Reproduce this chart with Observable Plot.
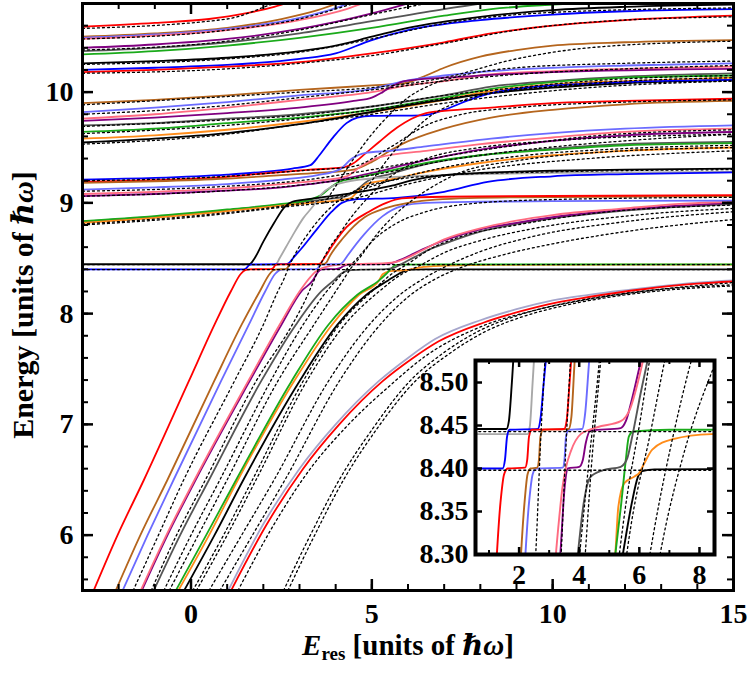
<!DOCTYPE html>
<html><head><meta charset="utf-8">
<script src="https://cdn.jsdelivr.net/npm/d3@7"></script>
<script src="https://cdn.jsdelivr.net/npm/@observablehq/plot@0.6"></script>
<style>
body{margin:0;background:#fff;}
#wrap{position:relative;width:747px;height:673px;overflow:hidden;font-family:'Liberation Serif','DejaVu Serif',serif;font-weight:bold;color:#000;}
#wrap svg text{font-family:'Liberation Serif','DejaVu Serif',serif !important;font-weight:bold !important;}
#main{position:absolute;left:0;top:0;}
#inset{position:absolute;left:400px;top:345px;}
.ylab{position:absolute;left:22px;top:305px;transform:translate(-50%,-50%) rotate(-90deg);white-space:nowrap;font-size:30px;}
.xlab{position:absolute;left:408px;top:646px;transform:translate(-50%,-50%);white-space:nowrap;font-size:29px;}
.xlab sub{font-size:19px;vertical-align:-5px;}
</style></head>
<body>
<div id="wrap">
  <div id="main"></div>
  <div id="inset"></div>
  <div class="ylab">Energy [units of <i>ℏω</i>]</div>
  <div class="xlab"><i>E</i><sub>res</sub> [units of <i>ℏω</i>]</div>
</div>
<script>
// ---------- tick values ----------
const xMajor = [0, 5, 10, 15];
const xMinor = [-3,-2,-1,0,1,2,3,4,5,6,7,8,9,10,11,12,13,14,15];
const yMajor = [6, 7, 8, 9, 10];
const yMinor = [5.6,5.8,6,6.2,6.4,6.6,6.8,7,7.2,7.4,7.6,7.8,8,8.2,8.4,8.6,8.8,9,9.2,9.4,9.6,9.8,10,10.2,10.4,10.6,10.8];
const insXMajor = [2, 4, 6, 8];
const insXMinor = [1, 3, 5, 7];
const insYMajor = [8.30, 8.35, 8.40, 8.45, 8.50];

// ---------- colored curves (E_res, Energy) ----------
const low_red = [[-2.69,5.5],[-2.03,6.0],[-1.3,6.5],[-0.06,7.39],[0.65,7.9],[1.1,8.2],[1.38,8.36],[1.5,8.393],[1.62,8.40],[2.2,8.401],[2.27,8.41],[2.33,8.437],[2.42,8.445],[3.5,8.446],[3.58,8.455],[3.68,8.5],[3.9,8.61],[4.3,8.78],[4.92,8.92],[5.4,9.0],[5.83,9.04],[7,9.055],[10,9.062],[15,9.07]];
const top_black = [[-3,8.446],[1.58,8.446],[1.66,8.455],[1.76,8.5],[2.0,8.65],[2.3,8.82],[2.58,8.96],[2.8,9.01],[3.3,9.035],[4.5,9.09],[5.5,9.15],[6.2,9.21],[7,9.25],[8,9.27],[10,9.29],[12,9.3],[15,9.31]];
const lgray_low = [[-3,8.44],[2.28,8.44],[2.36,8.45],[2.45,8.5],[2.8,8.7],[3.1,8.86],[3.4,8.98],[3.61,9.08],[3.9,9.15],[4.3,9.19],[5,9.22],[6,9.24],[8,9.26],[10,9.27],[15,9.28]];
const blue_low = [[-3,8.40],[1.45,8.40],[1.53,8.41],[1.6,8.437],[1.68,8.445],[2.62,8.446],[2.72,8.46],[2.82,8.5],[3.06,8.59],[3.5,8.77],[3.89,8.92],[4.17,9.0],[4.5,9.03],[5.7,9.045],[7,9.1],[8.2,9.19],[10,9.24],[12,9.26],[15,9.275]];
const brown_low = [[-2.08,5.5],[-1.4,6.0],[-0.65,6.5],[0.64,7.39],[1.4,7.9],[1.9,8.2],[2.18,8.36],[2.28,8.393],[2.38,8.40],[2.6,8.401],[2.66,8.41],[2.71,8.437],[2.8,8.445],[3.65,8.446],[3.74,8.46],[3.84,8.52],[4.2,8.68],[4.8,8.87],[5.36,8.95],[6.0,9.0],[6.75,9.03],[9,9.05],[15,9.06]];
const lblue_low = [[-1.89,5.5],[-1.2,6.0],[-0.48,6.5],[0.83,7.39],[1.6,7.9],[2.05,8.2],[2.33,8.36],[2.45,8.393],[2.56,8.40],[3.45,8.401],[3.51,8.41],[3.56,8.437],[3.65,8.445],[4.1,8.446],[4.2,8.465],[4.32,8.52],[4.8,8.72],[5.3,8.88],[5.83,8.97],[6.5,9.0],[8,9.01],[10,9.015],[15,9.02]];
const pink_low = [[-1.39,5.5],[-0.68,6.0],[0.1,6.5],[1.58,7.39],[2.45,7.9],[3.0,8.2],[3.3,8.33],[3.45,8.38],[3.55,8.40],[3.72,8.42],[4.05,8.44],[4.6,8.448],[5.38,8.455],[5.7,8.47],[5.95,8.5],[6.15,8.53],[6.5,8.59],[7,8.67],[8,8.77],[9,8.84],[10,8.89],[12,8.95],[13.5,8.99],[15,9.01]];
const purple_low = [[-1.36,5.5],[-0.65,6.0],[0.13,6.5],[1.62,7.39],[2.5,7.9],[3.05,8.2],[3.37,8.3],[3.52,8.38],[3.62,8.40],[4.0,8.402],[4.12,8.41],[4.22,8.43],[4.37,8.444],[5.38,8.447],[5.55,8.455],[5.75,8.48],[6.05,8.525],[6.4,8.58],[7,8.66],[8,8.76],[9,8.82],[10,8.87],[12,8.94],[15,9.0]];
const gray_low = [[-1.03,5.5],[-0.3,6.0],[0.5,6.5],[1.94,7.39],[2.9,7.9],[3.6,8.2],[3.95,8.3],[4.15,8.36],[4.37,8.39],[4.8,8.398],[5.38,8.402],[5.6,8.412],[5.72,8.43],[5.82,8.447],[6.0,8.48],[6.27,8.525],[6.6,8.58],[7,8.63],[8,8.74],[9,8.81],[10,8.86],[12,8.93],[15,8.99]];
const green_low = [[-0.42,5.5],[0.42,6.0],[1.25,6.5],[2.78,7.39],[3.8,7.9],[4.6,8.17],[5.2,8.3],[5.4,8.36],[5.55,8.41],[5.65,8.437],[5.8,8.443],[7,8.445],[15,8.445]];
const orange_low = [[-0.35,5.5],[0.5,6.0],[1.3,6.5],[2.85,7.39],[3.9,7.9],[4.65,8.17],[5.2,8.3],[5.3,8.355],[5.5,8.383],[5.85,8.391],[6.0,8.395],[6.15,8.405],[6.43,8.422],[7.1,8.434],[8.4,8.44],[15,8.443]];
const black_low = [[-0.19,5.5],[0.65,6.0],[1.45,6.5],[3.0,7.39],[4.05,7.9],[4.85,8.17],[5.45,8.3],[5.75,8.36],[5.95,8.39],[6.1,8.397],[6.5,8.399],[15,8.40]];
const lav_low = [[1.03,5.5],[2,6.1],[3,6.6],[4,7.0],[5.19,7.39],[6,7.6],[6.75,7.77],[8,7.94],[9,8.04],[10,8.12],[11,8.17],[12.5,8.23],[14,8.28],[15,8.30]];
const red2_low = [[1.11,5.5],[2.1,6.1],[3.1,6.6],[4.1,7.0],[5.3,7.39],[6.1,7.59],[6.85,7.75],[8.1,7.92],[9.1,8.02],[10.1,8.1],[11,8.15],[12.5,8.22],[14,8.27],[15,8.29]];

const blue_up = [[-3,9.21],[-1,9.225],[1,9.255],[2,9.28],[2.8,9.31],[3.3,9.34],[3.55,9.43],[3.9,9.58],[4.3,9.72],[4.6,9.77],[5,9.785],[6.4,9.79],[7,9.84],[7.7,9.93],[8.3,9.99],[9,10.03],[10,10.06],[12,10.09],[15,10.11]];
const red_up = [[-3,9.19],[-1,9.205],[1,9.235],[2,9.265],[3.3,9.3],[4.2,9.32],[4.5,9.36],[4.8,9.44],[5.2,9.55],[5.7,9.68],[6.1,9.76],[6.5,9.81],[7,9.83],[8.3,9.86],[10,9.9],[12,9.92],[15,9.94]];
const brown_up = [[-3,9.18],[-1,9.195],[1,9.22],[2.5,9.25],[3.5,9.27],[4.5,9.3],[5.0,9.37],[5.4,9.45],[5.83,9.53],[7,9.67],[8.3,9.77],[10,9.84],[12,9.89],[15,9.92]];
const lblue_up = [[-3,9.12],[-1,9.14],[1,9.17],[2.5,9.21],[3.5,9.25],[4.1,9.3],[4.45,9.4],[4.8,9.45],[5.5,9.47],[6.5,9.51],[8.3,9.58],[10,9.63],[12,9.67],[15,9.7]];
const pink_up = [[-3,9.08],[-1,9.1],[1,9.13],[2.5,9.17],[3.5,9.2],[4.3,9.24],[4.7,9.33],[5.2,9.41],[6.5,9.47],[8,9.53],[10,9.59],[12,9.64],[15,9.67]];
const purple_up = [[-3,9.06],[-1,9.08],[1,9.11],[2.5,9.14],[3.3,9.17],[4,9.2],[5,9.27],[6,9.35],[7,9.42],[8,9.48],[10,9.56],[12,9.61],[15,9.64]];
const green_up = [[-3,8.835],[-1,8.88],[1,8.94],[2.5,8.99],[3.3,9.03],[3.6,9.07],[3.9,9.15],[4.1,9.19],[4.5,9.22],[5.5,9.29],[6.5,9.36],[8,9.43],[10,9.48],[12,9.52],[15,9.54]];
const gray_up = [[-3,8.83],[-1,8.875],[1,8.935],[2.5,8.985],[3.5,9.025],[4.3,9.06],[4.6,9.12],[4.9,9.2],[5.5,9.26],[6.5,9.35],[8,9.43],[10,9.49],[12,9.53],[15,9.55]];
const orange_up = [[-3,8.82],[-1,8.865],[1,8.925],[2.5,8.975],[3.3,9.0],[4.4,9.04],[4.6,9.1],[4.85,9.17],[5.5,9.21],[6.5,9.28],[8,9.36],[10,9.43],[12,9.47],[15,9.5]];

const brown_mid = [[-3,9.9],[-1,9.93],[1,9.97],[3,10.02],[5,10.06],[5.9,10.08],[6.5,10.15],[7,10.22],[8,10.32],[9,10.38],[10,10.42],[12,10.45],[15,10.47]];
const lblue_mid = [[-3,9.82],[-1,9.86],[1,9.91],[3,9.97],[5,10.03],[5.9,10.1],[7,10.15],[8.3,10.19],[10,10.22],[12,10.24],[15,10.26]];
const pink_mid = [[-3,9.76],[-1,9.8],[1,9.86],[3,9.93],[5,10.0],[6,10.06],[7,10.1],[8,10.15],[10,10.19],[12,10.21],[15,10.23]];
const purple_mid = [[-3,9.74],[-1,9.77],[1,9.81],[3,9.86],[4.5,9.92],[5,9.95],[5.3,10.0],[5.6,10.06],[5.9,10.1],[7,10.13],[8,10.15],[10,10.18],[15,10.21]];
const gray_mid = [[-3,9.70],[-1,9.72],[1,9.76],[3,9.8],[5,9.87],[7,9.97],[8.3,10.05],[10,10.1],[12,10.14],[15,10.17]];
const green_mid = [[-3,9.64],[-1,9.67],[1,9.72],[3,9.77],[5,9.84],[7,9.95],[8.3,10.03],[10,10.09],[12,10.13],[15,10.15]];
const orange_mid = [[-3,9.58],[-1,9.61],[1,9.66],[3,9.73],[5,9.82],[7,9.93],[8.3,10.01],[10,10.07],[12,10.1],[15,10.13]];
const black_mid = [[-3,9.545],[-1,9.58],[1,9.63],[3,9.71],[4.64,9.8],[6,9.88],[7,9.93],[8.3,9.99],[10,10.04],[12,10.08],[15,10.11]];

const red_top = [[-3,10.59],[-1,10.625],[0.5,10.66],[1.5,10.71],[2.3,10.77],[2.8,10.82]];
const brown_top = [[-3,10.5],[-1,10.53],[1,10.58],[2.5,10.66],[3.5,10.74],[4.2,10.82]];
const lblue_top = [[-3,10.49],[-1,10.52],[1,10.57],[3,10.67],[4.1,10.77],[4.5,10.82]];
const pink_top = [[-3,10.48],[-1,10.51],[1,10.56],[3,10.65],[4.3,10.75],[4.9,10.82]];
const purple_top = [[-3,10.4],[-1,10.43],[1,10.48],[3,10.57],[5,10.71],[6.2,10.82]];
const gray_top = [[-3,10.37],[-1,10.4],[1,10.45],[3,10.53],[5,10.64],[7,10.75],[8.5,10.82]];
const green_top = [[-3,10.34],[-1,10.37],[1,10.42],[3,10.49],[5,10.58],[7,10.69],[8.3,10.75],[10,10.79],[12,10.82]];
const black_top = [[-3,10.26],[-1,10.28],[1,10.31],[3,10.37],[4,10.42],[5,10.5],[6,10.58],[8,10.68],[10,10.74],[12,10.77],[15,10.79]];
const blue_top = [[-3,10.2],[-1,10.22],[1,10.245],[3,10.3],[4,10.35],[5,10.47],[6,10.56],[8,10.65],[10,10.7],[12,10.73],[15,10.75]];
const red_top2 = [[-3,10.18],[-1,10.2],[1,10.23],[3,10.27],[5,10.35],[7,10.45],[8.3,10.53],[10,10.6],[12,10.65],[15,10.69]];

// ---------- dotted curves ----------
const dot_lowA = [[-0.75,5.5],[0.0,6.0],[0.8,6.5],[2.2,7.39],[3.1,7.9],[3.75,8.2],[4.3,8.4],[4.6,8.5],[5.0,8.65],[5.6,8.8],[6.5,8.92],[8,9.0],[10,9.03],[15,9.05]];
const dot_lowB = [[0.05,5.5],[0.9,6.0],[1.7,6.5],[3.1,7.39],[4.1,7.9],[5.0,8.2],[5.6,8.37],[6.0,8.45],[6.6,8.58],[7.5,8.7],[9,8.8],[11,8.9],[15,8.98]];
const dot_lowC = [[0.15,5.5],[1.0,6.0],[1.8,6.5],[3.2,7.39],[4.25,7.9],[5.2,8.2],[5.8,8.35],[6.3,8.43],[7,8.55],[8,8.66],[9.5,8.77],[12,8.88],[15,8.95]];
const dot_lowD = [[0.5,5.5],[1.4,6.0],[2.3,6.5],[3.8,7.39],[4.8,7.85],[5.7,8.15],[6.5,8.33],[7.2,8.45],[8,8.56],[9.5,8.7],[12,8.83],[15,8.92]];
const dot_lowE = [[0.8,5.5],[1.7,6.0],[2.6,6.5],[4.1,7.39],[5.1,7.85],[6.0,8.15],[6.8,8.32],[7.5,8.42],[8.5,8.52],[10,8.63],[12,8.74],[15,8.85]];
const dot_lowF = [[1.3,5.5],[2.3,6.1],[3.3,6.6],[4.3,6.98],[5.5,7.35],[6.5,7.62],[8,7.88],[9.5,8.03],[11,8.13],[13,8.22],[15,8.28]];
const dot_lowG = [[2.56,5.5],[3.3,6.0],[4.1,6.5],[5.0,6.95],[6.05,7.39],[7,7.65],[8,7.85],[9,7.98],[10,8.07],[11.5,8.16],[13,8.22],[15,8.26]];
const dot_lowH = [[2.68,5.5],[3.42,6.0],[4.22,6.5],[5.12,6.95],[6.2,7.39],[7.15,7.64],[8.15,7.84],[9.15,7.97],[10.15,8.06],[11.6,8.15],[13.1,8.21],[15,8.25]];
const dot_diagA = [[-1.6,5.5],[-0.9,6.0],[-0.2,6.5],[1.2,7.39],[2.0,7.9],[2.4,8.2],[2.58,8.32],[2.7,8.42],[2.9,8.55],[3.3,8.75],[3.9,8.97],[4.6,9.12],[5.5,9.2],[7,9.25],[10,9.28],[15,9.3]];
const dot_diagB = [[-1.1,5.5],[-0.4,6.0],[0.4,6.5],[1.8,7.39],[2.8,7.9],[3.2,8.15],[3.4,8.3],[3.55,8.42],[3.75,8.55],[4.1,8.72],[4.5,8.9],[4.9,9.05],[5.3,9.18],[5.8,9.3],[6.5,9.4],[8,9.5],[10,9.56],[15,9.62]];
const dot_diagC = [[-0.6,5.5],[0.2,6.0],[1.0,6.5],[2.4,7.39],[3.4,7.9],[3.9,8.15],[4.2,8.3],[4.4,8.4],[4.7,8.52],[5.1,8.7],[5.6,8.88],[6.1,9.02],[6.7,9.15],[7.5,9.28],[9,9.38],[11,9.45],[15,9.5]];
const dot_diagD = [[3.7,9.0],[4.1,9.2],[4.5,9.4],[5.0,9.62],[5.5,9.8],[6.0,9.95],[6.6,10.06],[7.5,10.15],[9,10.22],[12,10.26],[15,10.28]];
const dot_diagE = [[4.5,9.0],[5.0,9.2],[5.5,9.42],[6.0,9.6],[6.6,9.78],[7.3,9.9],[8.5,10.0],[10,10.05],[15,10.1]];
const dot_levU = [[-3,8.443],[15,8.443]];
const dot_levL = [[-3,8.398],[15,8.398]];
const dot_t1 = [[-3,10.575],[1,10.66],[2.3,10.8],[2.6,10.83]];
const dot_t2 = [[-3,10.48],[1,10.56],[3,10.66],[4.5,10.8],[4.8,10.83]];
const dot_t3 = [[-3,10.38],[1,10.46],[3,10.56],[5,10.7],[6.5,10.8],[7,10.83]];
const dot_t4 = [[-3,10.25],[1,10.3],[3,10.36],[5,10.48],[7,10.62],[10,10.72],[15,10.76]];
const dot_t5 = [[-3,10.17],[1,10.21],[3,10.26],[5,10.33],[7,10.44],[9,10.56],[11,10.63],[15,10.68]];
const dot_m1 = [[-3,9.885],[1,9.96],[3,10.0],[5,10.04],[7,10.13],[9,10.3],[11,10.4],[15,10.46]];
const dot_m2 = [[-3,9.80],[1,9.88],[3,9.95],[5,10.02],[7,10.1],[9,10.16],[12,10.21],[15,10.24]];
const dot_m3 = [[-3,9.69],[1,9.75],[3,9.79],[5,9.87],[7,9.97],[9,10.04],[11,10.1],[15,10.15]];
const dot_m4 = [[-3,9.625],[1,9.7],[3,9.76],[5,9.84],[7,9.94],[9,10.02],[11,10.08],[15,10.13]];
const dot_m5 = [[-3,9.53],[1,9.62],[3,9.71],[5,9.8],[7,9.9],[9,9.98],[11,10.04],[15,10.1]];
const dot_l1 = [[-3,9.2],[1,9.24],[3,9.29],[4.5,9.33],[5.5,9.5],[6.5,9.7],[7.5,9.8],[9,9.86],[12,9.91],[15,9.93]];
const dot_l2 = [[-3,9.105],[1,9.15],[3,9.2],[5,9.3],[7,9.42],[9,9.52],[11,9.6],[15,9.66]];
const dot_l3 = [[-3,9.06],[1,9.11],[3,9.16],[5,9.25],[7,9.38],[9,9.47],[12,9.56],[15,9.62]];
const dot_l4 = [[-3,8.81],[0,8.88],[2.5,8.97],[4,9.05],[5.5,9.2],[7,9.32],[9,9.42],[12,9.49],[15,9.52]];
const dot_l5 = [[-3,8.80],[0,8.87],[2.5,8.96],[4.5,9.04],[6,9.17],[8,9.3],[11,9.4],[15,9.47]];

// ---------- tables built from the arrays ----------
const palette = {red:"#ff0000", brown:"#b5651d", blue:"#0000ff", lblue:"#6b6bff", pink:"#ff6b80", purple:"#800080", gray:"#555555", lgray:"#a8a8a8", green:"#1aaa1a", orange:"#ff8c1a", black:"#000000", lav:"#a6a6cc"};
const coloredCurves = [
  ["red", red_top],["brown", brown_top],["lblue", lblue_top],["pink", pink_top],["purple", purple_top],["gray", gray_top],["green", green_top],["black", black_top],["blue", blue_top],["red", red_top2],
  ["brown", brown_mid],["lblue", lblue_mid],["pink", pink_mid],["purple", purple_mid],["gray", gray_mid],["green", green_mid],["orange", orange_mid],["black", black_mid],
  ["blue", blue_up],["red", red_up],["brown", brown_up],["lblue", lblue_up],["pink", pink_up],["purple", purple_up],["gray", gray_up],["green", green_up],["orange", orange_up],
  ["lgray", lgray_low],["black", top_black],["blue", blue_low],
  ["lav", lav_low],["red", red2_low],
  ["black", black_low],["orange", orange_low],["green", green_low],["gray", gray_low],["purple", purple_low],["pink", pink_low],["lblue", lblue_low],["brown", brown_low],["red", low_red]
];
const dottedCurves = [dot_lowA,dot_lowB,dot_lowC,dot_lowD,dot_lowE,dot_lowF,dot_lowG,dot_lowH,dot_diagA,dot_diagB,dot_diagC,dot_diagD,dot_diagE,dot_levU,dot_levL,
  dot_t1,dot_t2,dot_t3,dot_t4,dot_t5,dot_m1,dot_m2,dot_m3,dot_m4,dot_m5,dot_l1,dot_l2,dot_l3,dot_l4,dot_l5];

function curveMarks(lw, dw) {
  const ms = [];
  for (const [c, pts] of coloredCurves) {
    ms.push(Plot.line(pts, {x: d => d[0], y: d => d[1], stroke: palette[c], strokeWidth: lw, curve: "monotone-x", clip: true}));
  }
  for (const pts of dottedCurves) {
    ms.push(Plot.line(pts, {x: d => d[0], y: d => d[1], stroke: "#000", strokeWidth: dw, strokeDasharray: "2,3", curve: "monotone-x", clip: true}));
  }
  return ms;
}

const FONT = "'Liberation Serif','DejaVu Serif',serif";
const STYLE = `font-family:${FONT};font-size:28px;font-weight:bold;background:transparent;overflow:visible;`;

// ---------- main chart ----------
const mW = 747, mH = 673, mL = 82, mR = 14, mT = 3, mB = 83;
const pw = mW - mL - mR, ph = mH - mT - mB;
const mainPlot = Plot.plot({
  width: mW, height: mH,
  marginLeft: mL, marginRight: mR, marginTop: mT, marginBottom: mB,
  x: {domain: [-3, 15]},
  y: {domain: [5.5, 10.8]},
  style: STYLE,
  marks: [
    ...curveMarks(1.8, 1.3),
    Plot.tickX(xMinor, {x: d => d, insetTop: ph - 6, strokeWidth: 2}),
    Plot.tickX(xMinor, {x: d => d, insetBottom: ph - 6, strokeWidth: 2}),
    Plot.tickX(xMajor, {x: d => d, insetTop: ph - 11, strokeWidth: 2.5}),
    Plot.tickX(xMajor, {x: d => d, insetBottom: ph - 11, strokeWidth: 2.5}),
    Plot.tickY(yMinor, {y: d => d, insetRight: pw - 6, strokeWidth: 2}),
    Plot.tickY(yMinor, {y: d => d, insetLeft: pw - 6, strokeWidth: 2}),
    Plot.tickY(yMajor, {y: d => d, insetRight: pw - 11, strokeWidth: 2.5}),
    Plot.tickY(yMajor, {y: d => d, insetLeft: pw - 11, strokeWidth: 2.5}),
    Plot.frame({stroke: "#000", strokeWidth: 3}),
    Plot.axisX(xMajor, {tickSize: 0, tickPadding: 13, label: null, fontSize: 28, tickFormat: d => String(d)}),
    Plot.axisY(yMajor, {tickSize: 0, tickPadding: 9, label: null, fontSize: 28, tickFormat: d => String(d)})
  ]
});
document.getElementById("main").appendChild(mainPlot);

// ---------- inset ----------
const iW = 347, iH = 260, iL = 75, iR = 33, iT = 15, iB = 51;
const ipw = iW - iL - iR, iph = iH - iT - iB;
const insetPlot = Plot.plot({
  width: iW, height: iH,
  marginLeft: iL, marginRight: iR, marginTop: iT, marginBottom: iB,
  x: {domain: [0.55, 8.5]},
  y: {domain: [8.30, 8.5256]},
  style: STYLE,
  marks: [
    Plot.frame({fill: "#fff", stroke: null}),
    ...curveMarks(1.9, 1.3),
    Plot.tickX(insXMinor, {x: d => d, insetTop: iph - 4, strokeWidth: 2}),
    Plot.tickX(insXMinor, {x: d => d, insetBottom: iph - 4, strokeWidth: 2}),
    Plot.tickX(insXMajor, {x: d => d, insetTop: iph - 7, strokeWidth: 2.5}),
    Plot.tickX(insXMajor, {x: d => d, insetBottom: iph - 7, strokeWidth: 2.5}),
    Plot.tickY(insYMajor, {y: d => d, insetRight: ipw - 7, strokeWidth: 2.5}),
    Plot.tickY(insYMajor, {y: d => d, insetLeft: ipw - 7, strokeWidth: 2.5}),
    Plot.frame({stroke: "#000", strokeWidth: 4}),
    Plot.axisX(insXMajor, {tickSize: 0, tickPadding: 10, label: null, fontSize: 28, tickFormat: d => String(d)}),
    Plot.axisY(insYMajor, {tickSize: 0, tickPadding: 7, label: null, tickFormat: d3.format(".2f"), fontSize: 28})
  ]
});
document.getElementById("inset").appendChild(insetPlot);
</script>
</body></html>
